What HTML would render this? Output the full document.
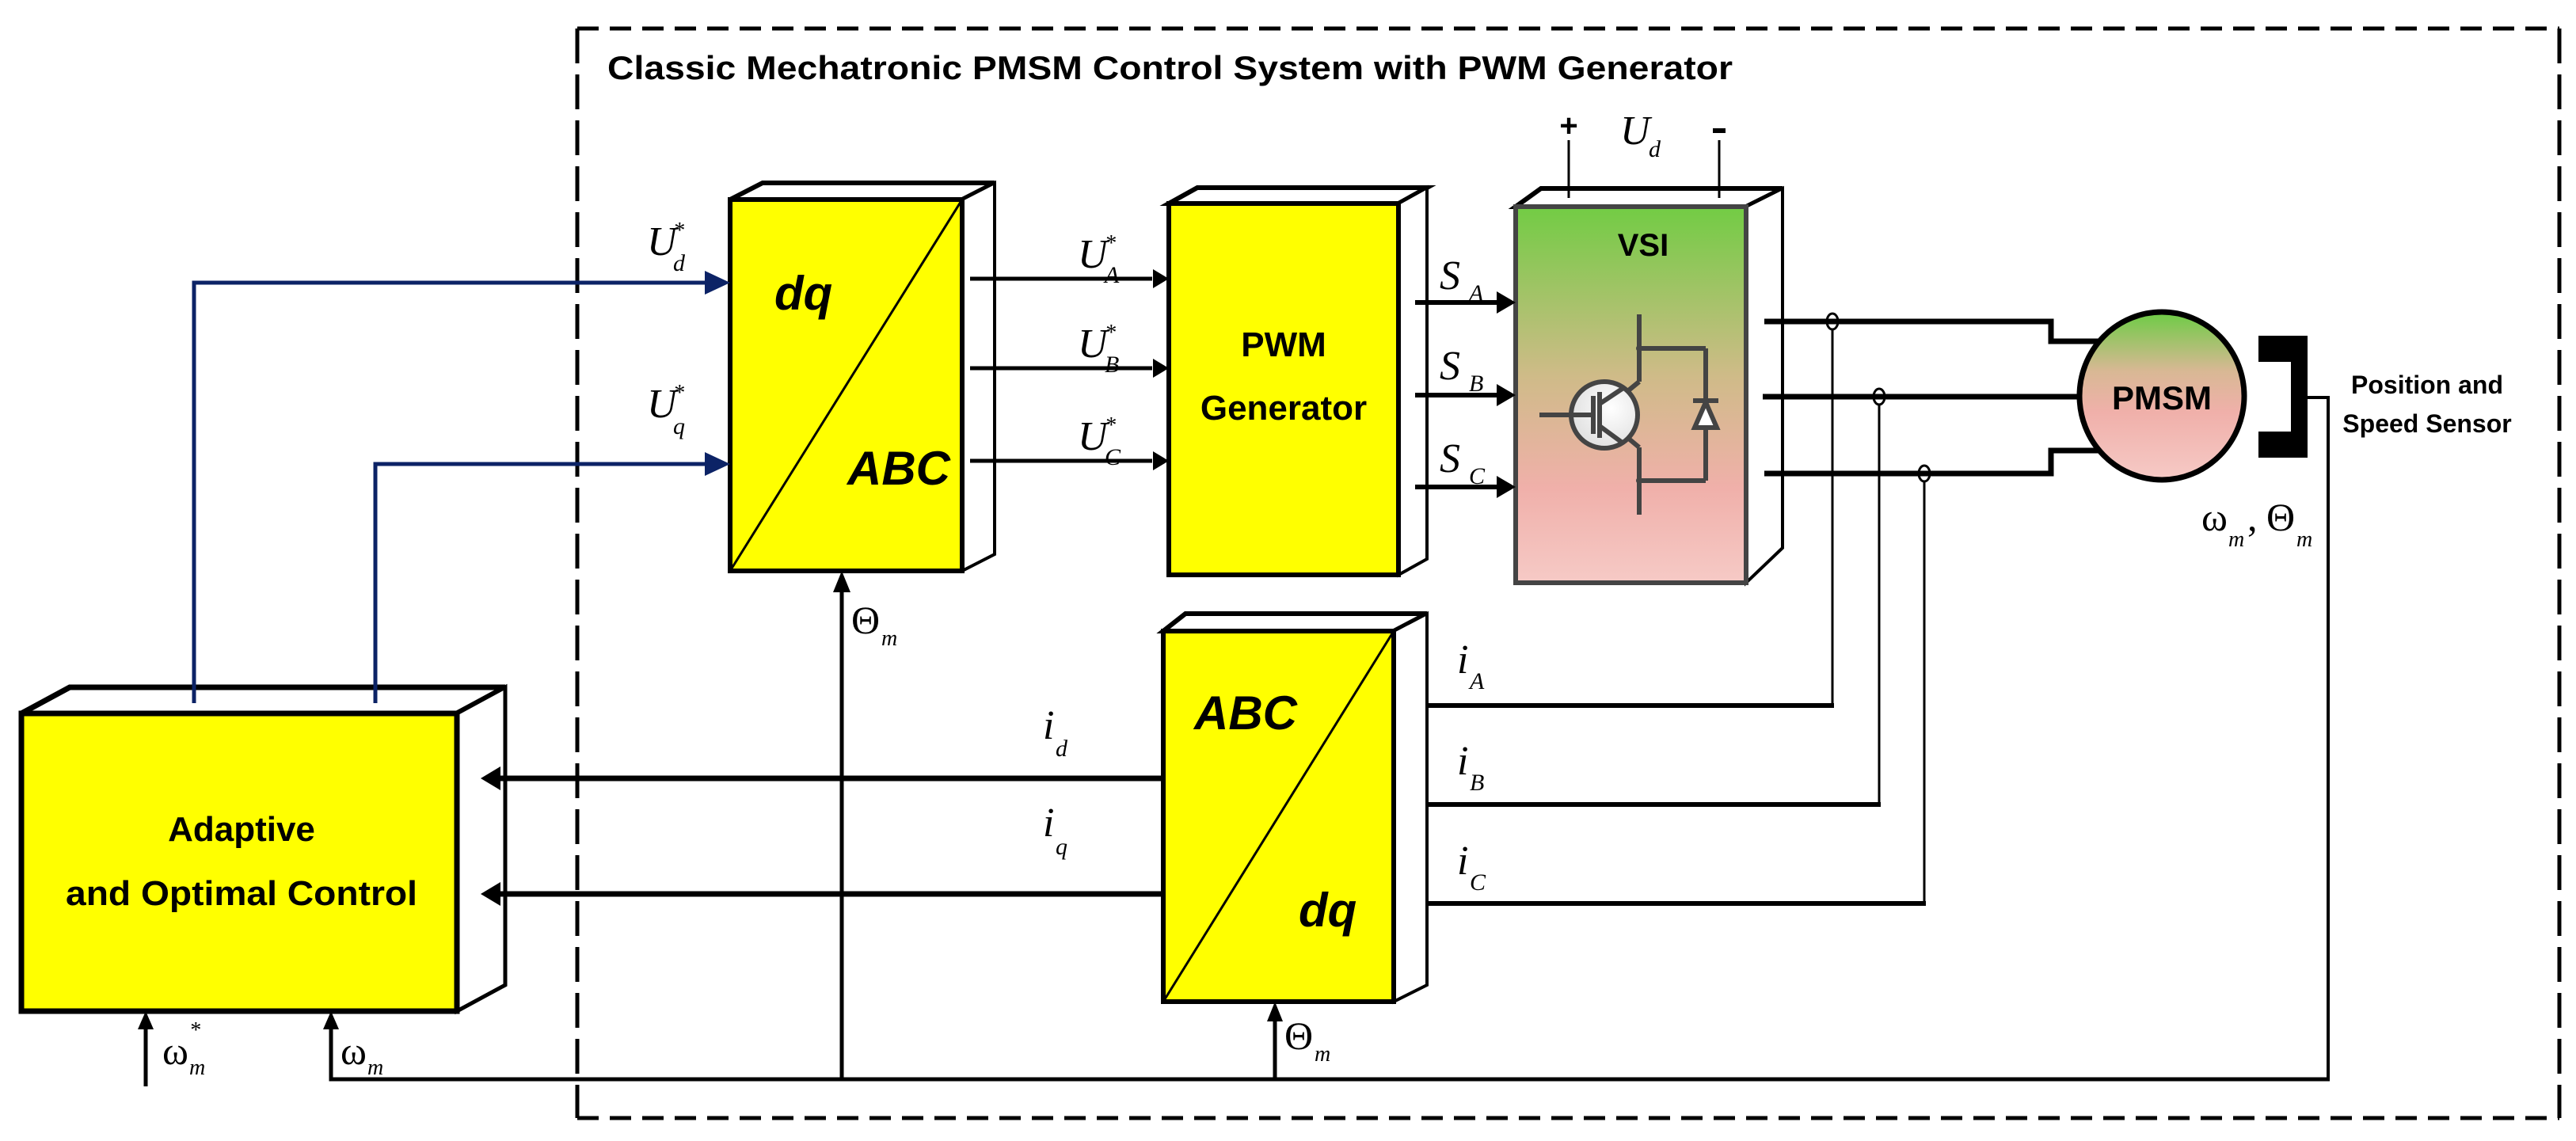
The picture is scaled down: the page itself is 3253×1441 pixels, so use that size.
<!DOCTYPE html>
<html><head><meta charset="utf-8"><style>
html,body{margin:0;padding:0;background:#fff;}
svg{display:block;}
.t{font-family:"Liberation Sans",sans-serif;font-weight:bold;}
.m{font-family:"Liberation Serif",serif;font-style:italic;}
.g{font-family:"Liberation Serif",serif;font-style:normal;}
.bi{font-family:"Liberation Sans",sans-serif;font-weight:bold;font-style:italic;}
</style></head><body>
<svg width="3253" height="1441" viewBox="0 0 3253 1441" xmlns="http://www.w3.org/2000/svg">
<defs>
<linearGradient id="vsi" x1="0" y1="0" x2="0" y2="1">
<stop offset="0" stop-color="#72cc44"/><stop offset="0.45" stop-color="#cfbb88"/><stop offset="0.75" stop-color="#f0b0aa"/><stop offset="1" stop-color="#f6cac6"/></linearGradient>
<linearGradient id="mot" x1="0" y1="0" x2="0" y2="1">
<stop offset="0" stop-color="#6ccc44"/><stop offset="0.35" stop-color="#d8b894"/><stop offset="0.6" stop-color="#f0b0aa"/><stop offset="1" stop-color="#f6cac6"/></linearGradient>
<radialGradient id="igbt" cx="0.6" cy="0.4" r="0.7"><stop offset="0" stop-color="#fff"/><stop offset="1" stop-color="#ddd"/></radialGradient>
</defs>

<g stroke="#000" stroke-width="5" fill="none">
<line x1="729" y1="36" x2="3232" y2="36" stroke-dasharray="27 14"/>
<line x1="729" y1="1412" x2="3232" y2="1412" stroke-dasharray="27 14"/>
<line x1="729" y1="36" x2="729" y2="1412" stroke-dasharray="44 14"/>
<line x1="3232" y1="36" x2="3232" y2="1412" stroke-dasharray="44 14"/>
</g>
<text x="767" y="100" class="t" font-size="42" textLength="1421" lengthAdjust="spacingAndGlyphs">Classic Mechatronic PMSM Control System with PWM Generator</text>

<g stroke="#000" stroke-width="6" stroke-linejoin="miter">
<polygon points="922,252 963,231 1256,231 1215,252" fill="#fff"/>
<polygon points="1215,252 1256,231 1256,700 1215,721" fill="#fff" stroke-width="4"/>
<rect x="922" y="252" width="293" height="469" fill="#ffff00"/>
</g>
<line x1="922" y1="721" x2="1215" y2="252" stroke="#000" stroke-width="3"/>
<text x="978" y="391" class="bi" font-size="60">dq</text>
<text x="1070" y="612" class="bi" font-size="60">ABC</text>

<g stroke="#000" stroke-width="6">
<polygon points="1476,257 1512,237 1802,237 1766,257" fill="#fff"/>
<polygon points="1766,257 1802,237 1802,706 1766,726" fill="#fff" stroke-width="4"/>
<rect x="1476" y="257" width="290" height="469" fill="#ffff00"/>
</g>
<text x="1621" y="450" class="t" font-size="44" text-anchor="middle">PWM</text>
<text x="1621" y="530" class="t" font-size="44" text-anchor="middle">Generator</text>

<g stroke-width="6">
<polygon points="1914,261 1946,238 2251,238 2205,261" fill="#fff" stroke="#000"/>
<polygon points="2205,261 2251,238 2251,692 2205,736" fill="#fff" stroke="#000" stroke-width="4"/>
<rect x="1914" y="261" width="291" height="475" fill="url(#vsi)" stroke="#444"/>
</g>
<text x="2075" y="323" class="t" font-size="40" text-anchor="middle">VSI</text>
<g stroke="#444" stroke-width="6" fill="none">
<line x1="2070" y1="397" x2="2070" y2="482"/>
<line x1="2070" y1="482" x2="2048" y2="500"/>
<line x1="2070" y1="440" x2="2154" y2="440"/>
<line x1="2154" y1="440" x2="2154" y2="607"/>
<line x1="2070" y1="607" x2="2154" y2="607"/>
<line x1="2070" y1="565" x2="2070" y2="650"/>
<line x1="2070" y1="565" x2="2046" y2="545"/>
<circle cx="2026" cy="524" r="42" fill="url(#igbt)"/>
<line x1="1944" y1="524" x2="2012" y2="524"/>
<line x1="2012" y1="500" x2="2012" y2="548"/>
<line x1="2020" y1="495" x2="2020" y2="553"/>
<line x1="2020" y1="510" x2="2050" y2="490"/>
<line x1="2020" y1="538" x2="2050" y2="560"/>
<line x1="2138" y1="506" x2="2170" y2="506"/>
<polygon points="2154,508 2140,540 2168,540" fill="#fff"/>
</g>
<circle cx="2070" cy="440" r="4" fill="#444"/><circle cx="2070" cy="607" r="4" fill="#444"/>

<g stroke="#000" stroke-width="3"><line x1="1981" y1="177" x2="1981" y2="250"/><line x1="2171" y1="177" x2="2171" y2="250"/></g>
<text x="1981" y="172" class="t" font-size="40" text-anchor="middle">+</text>
<rect x="2163" y="162" width="16" height="6" fill="#000"/>
<text x="2046" y="182" class="m" font-size="52">U</text><text x="2082" y="198" class="m" font-size="30">d</text>

<g stroke="#000" stroke-width="7">
<polygon points="27,901 88,868 638,868 577,901" fill="#fff"/>
<polygon points="577,901 638,868 638,1244 577,1277" fill="#fff" stroke-width="5"/>
<rect x="27" y="901" width="550" height="376" fill="#ffff00"/>
</g>
<text x="305" y="1062" class="t" font-size="44" text-anchor="middle">Adaptive</text>
<text x="305" y="1143" class="t" font-size="44" text-anchor="middle" textLength="444" lengthAdjust="spacingAndGlyphs">and Optimal Control</text>

<g stroke="#0c2366" stroke-width="5" fill="none">
<polyline points="245,888 245,357 895,357"/>
<polyline points="474,888 474,586 895,586"/>
</g>
<polygon points="922,357 890,342 890,372" fill="#0c2366"/>
<polygon points="922,586 890,571 890,601" fill="#0c2366"/>
<text x="817" y="322" class="m" font-size="52">U</text><text x="850" y="300" class="m" font-size="28">*</text><text x="850" y="342" class="m" font-size="30">d</text>
<text x="817" y="527" class="m" font-size="52">U</text><text x="850" y="505" class="m" font-size="28">*</text><text x="850" y="548" class="m" font-size="30">q</text>

<g stroke="#000" stroke-width="5">
<line x1="1225" y1="352" x2="1455" y2="352"/>
<line x1="1225" y1="465" x2="1455" y2="465"/>
<line x1="1225" y1="582" x2="1455" y2="582"/>
</g>
<g fill="#000">
<polygon points="1476,352 1456,340 1456,364"/><polygon points="1476,465 1456,453 1456,477"/><polygon points="1476,582 1456,570 1456,594"/>
</g>
<g class="m">
<text x="1361" y="338" font-size="52">U</text><text x="1395" y="316" font-size="28">*</text><text x="1395" y="357" font-size="30">A</text>
<text x="1361" y="451" font-size="52">U</text><text x="1395" y="429" font-size="28">*</text><text x="1395" y="470" font-size="30">B</text>
<text x="1361" y="568" font-size="52">U</text><text x="1395" y="546" font-size="28">*</text><text x="1395" y="587" font-size="30">C</text>
</g>

<g stroke="#000" stroke-width="6">
<line x1="1787" y1="382" x2="1892" y2="382"/><line x1="1787" y1="499" x2="1892" y2="499"/><line x1="1787" y1="615" x2="1892" y2="615"/>
</g>
<g fill="#000">
<polygon points="1914,382 1890,368 1890,396"/><polygon points="1914,499 1890,485 1890,513"/><polygon points="1914,615 1890,601 1890,629"/>
</g>
<g class="m">
<text x="1818" y="365" font-size="52">S</text><text x="1855" y="380" font-size="30">A</text>
<text x="1818" y="479" font-size="52">S</text><text x="1855" y="494" font-size="30">B</text>
<text x="1818" y="596" font-size="52">S</text><text x="1855" y="611" font-size="30">C</text>
</g>

<g stroke="#000" stroke-width="7" fill="none">
<polyline points="2228,406 2590,406 2590,431 2660,431"/>
<polyline points="2226,501 2630,501"/>
<polyline points="2228,598 2590,598 2590,569 2660,569"/>
</g>
<ellipse cx="2730" cy="500" rx="104" ry="106" fill="url(#mot)" stroke="#000" stroke-width="7"/>
<text x="2730" y="517" class="t" font-size="42" text-anchor="middle">PMSM</text>
<g stroke="#000" stroke-width="3" fill="none">
<ellipse cx="2314" cy="406" rx="7" ry="10"/><ellipse cx="2373" cy="501" rx="7" ry="10"/><ellipse cx="2430" cy="598" rx="7" ry="10"/>
<polyline points="2314,416 2314,891"/>
<polyline points="2373,511 2373,1016"/>
<polyline points="2430,608 2430,1141"/>
</g>
<g stroke="#000" stroke-width="6">
<line x1="2316" y1="891" x2="1800" y2="891"/><line x1="2375" y1="1016" x2="1800" y2="1016"/><line x1="2432" y1="1141" x2="1800" y2="1141"/>
</g>
<g fill="#000">
<polygon points="1779,891 1801,878 1801,904"/><polygon points="1779,1016 1801,1003 1801,1029"/><polygon points="1779,1141 1801,1128 1801,1154"/>
</g>
<g class="m">
<text x="1840" y="850" font-size="52">i</text><text x="1856" y="870" font-size="30">A</text>
<text x="1840" y="978" font-size="52">i</text><text x="1856" y="998" font-size="30">B</text>
<text x="1840" y="1104" font-size="52">i</text><text x="1856" y="1124" font-size="30">C</text>
</g>

<path d="M2852,424 H2914 V578 H2852 V545 H2893 V457 H2852 Z" fill="#000"/>
<polyline points="2914,502 2940,502 2940,1363" stroke="#000" stroke-width="4" fill="none"/>
<text x="3065" y="497" class="t" font-size="32" text-anchor="middle">Position and</text>
<text x="3065" y="546" class="t" font-size="32" text-anchor="middle">Speed Sensor</text>
<text x="2780" y="670" class="g" font-size="50">ω</text><text x="2814" y="690" class="m" font-size="28">m</text><text x="2838" y="670" class="g" font-size="50">,</text>
<text x="2862" y="670" class="g" font-size="50">Θ</text><text x="2900" y="690" class="m" font-size="28">m</text>

<g stroke="#000" stroke-width="6">
<polygon points="1469,797 1497,775 1802,775 1760,797" fill="#fff"/>
<polygon points="1760,797 1802,775 1802,1244 1760,1265" fill="#fff" stroke-width="4"/>
<rect x="1469" y="797" width="291" height="468" fill="#ffff00"/>
</g>
<line x1="1469" y1="1265" x2="1760" y2="797" stroke="#000" stroke-width="3"/>
<text x="1508" y="921" class="bi" font-size="60">ABC</text>
<text x="1640" y="1170" class="bi" font-size="60">dq</text>

<g stroke="#000" stroke-width="7">
<line x1="1469" y1="983" x2="630" y2="983"/><line x1="1469" y1="1129" x2="630" y2="1129"/>
</g>
<g fill="#000"><polygon points="607,983 632,968 632,998"/><polygon points="607,1129 632,1114 632,1144"/></g>
<g class="m">
<text x="1317" y="933" font-size="52">i</text><text x="1333" y="955" font-size="30">d</text>
<text x="1317" y="1056" font-size="52">i</text><text x="1333" y="1079" font-size="30">q</text>
</g>

<g stroke="#000" stroke-width="5" fill="none">
<polyline points="418,1297 418,1363 2942,1363"/>
<line x1="1063" y1="1363" x2="1063" y2="745"/>
<line x1="1610" y1="1363" x2="1610" y2="1288"/>
<line x1="184" y1="1372" x2="184" y2="1297"/>
</g>
<g fill="#000">
<polygon points="1063,721 1052,748 1074,748"/>
<polygon points="1610,1265 1600,1290 1620,1290"/>
<polygon points="418,1277 408,1300 428,1300"/>
<polygon points="184,1277 174,1300 194,1300"/>
</g>
<text x="1075" y="800" class="g" font-size="50">Θ</text><text x="1113" y="815" class="m" font-size="28">m</text>
<text x="1622" y="1325" class="g" font-size="50">Θ</text><text x="1660" y="1340" class="m" font-size="28">m</text>
<text x="205" y="1344" class="g" font-size="50">ω</text><text x="239" y="1310" class="m" font-size="28">*</text><text x="239" y="1357" class="m" font-size="28">m</text>
<text x="430" y="1344" class="g" font-size="50">ω</text><text x="464" y="1357" class="m" font-size="28">m</text>
</svg>
</body></html>
